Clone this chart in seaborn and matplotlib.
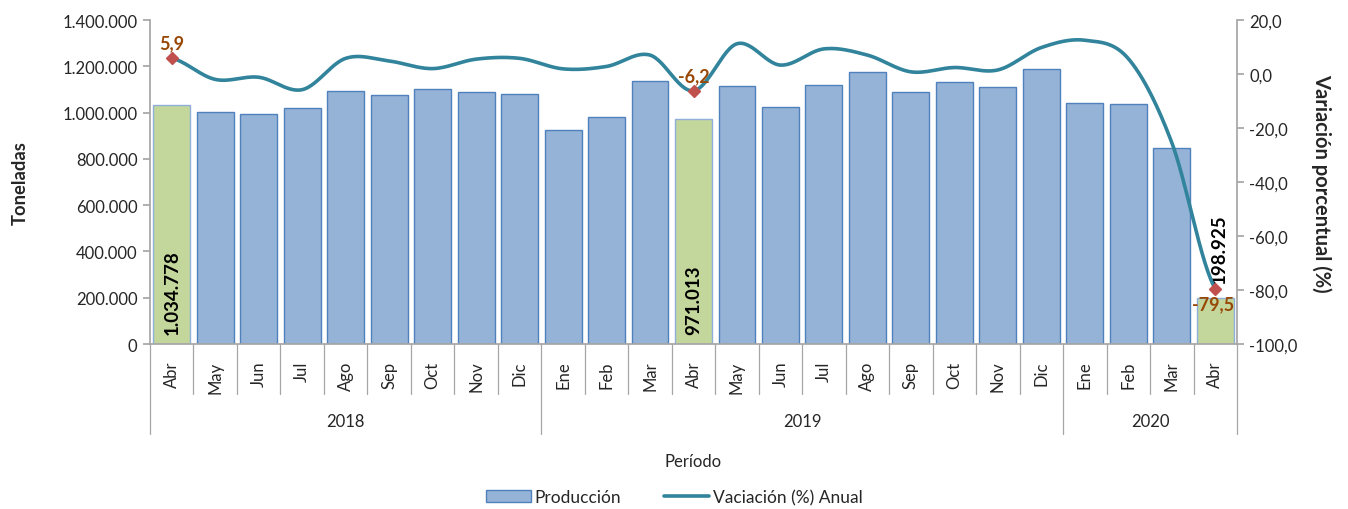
import numpy as np
import pandas as pd
import matplotlib
matplotlib.use("Agg")
import matplotlib.pyplot as plt
import matplotlib.transforms as mtransforms
from matplotlib.patches import Patch
from matplotlib.lines import Line2D
import seaborn as sns

# === Data ===
months = ["Abr", "May", "Jun", "Jul", "Ago", "Sep", "Oct", "Nov", "Dic",
          "Ene", "Feb", "Mar", "Abr", "May", "Jun", "Jul", "Ago", "Sep", "Oct", "Nov", "Dic",
          "Ene", "Feb", "Mar", "Abr"]
years = ["2018", "2019", "2020"]
year_counts = [9, 12, 4]
produccion = [1034778, 1003000, 993000, 1020000, 1093000, 1078000, 1102000, 1091000, 1082000,
              925000, 981000, 1138000, 971013, 1115000, 1025000, 1117000, 1176000, 1091000,
              1132000, 1112000, 1190000, 1041000, 1037000, 849000, 198925]
variacion = [5.9, -2.0, -1.2, -5.8, 5.8, 4.8, 2.0, 5.5, 5.8,
             1.9, 2.8, 7.0, -6.2, 11.2, 3.3, 9.3, 7.0, 0.8, 2.4, 1.5, 9.8,
             12.5, 5.7, -25.4, -79.5]
highlight = [0, 12, 24]

BLUE = "#95B3D7"
BLUE_EDGE = "#4F81BD"
GREEN = "#C3D69B"
GREEN_EDGE = "#8FAEDA"
TEAL = "#31849B"
RED = "#C0504D"
BROWN = "#984807"
GRAY = "#A6A6A6"

sns.set_theme(style="white")
plt.rcParams["font.family"] = ["Lato", "DejaVu Sans"]

n = len(months)
idx = np.arange(n)
df = pd.DataFrame({"i": idx, "prod": produccion})
colors = [GREEN if i in highlight else BLUE for i in idx]

fig = plt.figure(figsize=(13.48, 5.10), dpi=100)
ax = fig.add_axes([150 / 1348, 1 - 345 / 510, 1087 / 1348, 324 / 510])

# === Bars ===
sns.barplot(data=df, x="i", y="prod", hue="i", palette=colors, legend=False,
            width=0.85, ax=ax, saturation=1)
for i, p in enumerate(ax.patches):
    p.set_edgecolor(GREEN_EDGE if i in highlight else BLUE_EDGE)
    p.set_linewidth(1.0)

ax.set_xlim(-0.5, n - 0.5)
ax.set_ylim(0, 1400000)
ax.set_yticks(np.arange(0, 1400001, 200000))
ax.set_yticklabels([f"{v:,}".replace(",", ".") for v in range(0, 1400001, 200000)], fontsize=12)
ax.set_xticks(idx)
ax.set_xticklabels(months, rotation=90, fontsize=12)
ax.tick_params(axis="x", length=0, pad=12)
ax.tick_params(axis="y", length=5, color=GRAY, direction="out", left=True, pad=4)
ax.set_xlabel("")
ax.set_ylabel("Toneladas", fontsize=13.2, fontweight="bold", labelpad=24)
for s in ["top", "right"]:
    ax.spines[s].set_visible(False)
for s in ["left", "bottom"]:
    ax.spines[s].set_color(GRAY)

# bar data labels
for i in highlight:
    txt = f"{produccion[i]:,}".replace(",", ".")
    if produccion[i] > 400000:
        ax.text(i, 45000, txt, rotation=90, ha="center", va="bottom",
                fontsize=13.5, fontweight="bold", color="black")
    else:
        ax.text(i + 0.08, produccion[i] + 65000, txt, rotation=90, ha="center", va="bottom",
                fontsize=13.5, fontweight="bold", color="black")

# === Multi-level category axis ===
trans = mtransforms.blended_transform_factory(ax.transData, ax.transAxes)
year_edges = np.cumsum([0] + year_counts)
for k in range(n + 1):
    x = k - 0.5
    depth = -90 / 324 if k in year_edges else -50 / 324
    ax.plot([x, x], [0, depth], transform=trans, color=GRAY, lw=0.9, clip_on=False)
for y, start, cnt in zip(years, year_edges[:-1], year_counts):
    ax.text(start + (cnt - 1) / 2, -77 / 324, y, transform=trans, ha="center",
            va="center", fontsize=12)
ax.text(0.5, -117 / 324, "Período", transform=ax.transAxes, ha="center",
        va="center", fontsize=12)

# === Line on secondary axis (smoothed like the original) ===
ax2 = ax.twinx()
pts = np.array(variacion)
ext = np.concatenate([[pts[0]], pts, [pts[-1]]])
xs, ys = [], []
t = np.linspace(0, 1, 30)
for k in range(n - 1):
    p0, p1, p2, p3 = ext[k], ext[k + 1], ext[k + 2], ext[k + 3]
    c1 = p1 + (p2 - p0) / 6
    c2 = p2 - (p3 - p1) / 6
    yk = (1 - t) ** 3 * p1 + 3 * (1 - t) ** 2 * t * c1 + 3 * (1 - t) * t ** 2 * c2 + t ** 3 * p2
    xs.extend(k + t)
    ys.extend(yk)
ax2.plot(xs, ys, color=TEAL, lw=2.6, solid_capstyle="round")
ax2.plot([idx[i] for i in highlight], [variacion[i] for i in highlight],
         linestyle="none", marker="D", markersize=6.5, color=RED)
ax2.set_ylim(-100, 20)
ax2.set_yticks(np.arange(-100, 21, 20))
ax2.set_yticklabels([f"{v:.1f}".replace(".", ",") for v in np.arange(-100, 21, 20)], fontsize=12)
ax2.tick_params(axis="y", length=5, color=GRAY, direction="out", right=True, pad=4)
ax2.set_ylabel("Variación porcentual (%)", fontsize=14.5, fontweight="bold",
               rotation=270, labelpad=24)
for s in ["top", "left", "bottom"]:
    ax2.spines[s].set_visible(False)
ax2.spines["right"].set_color(GRAY)
ax2.grid(False)

for i in highlight:
    txt = f"{variacion[i]:.1f}".replace(".", ",")
    if variacion[i] > -50:
        ax2.text(i, variacion[i] + 2.5, txt, ha="center", va="bottom",
                 fontsize=13, fontweight="bold", color=BROWN)
    else:
        ax2.text(i - 0.05, variacion[i] - 2.5, txt, ha="center", va="top",
                 fontsize=13, fontweight="bold", color=BROWN)

# === Legend ===
handles = [Patch(facecolor=BLUE, edgecolor=BLUE_EDGE, label="Producción"),
           Line2D([0], [0], color=TEAL, lw=2.6, label="Vaciación (%) Anual")]
fig.legend(handles=handles, loc="center", bbox_to_anchor=(0.5, 1 - 498 / 510), ncol=2,
           frameon=False, fontsize=12.5, handlelength=2.6, handletextpad=0.2,
           columnspacing=2.5)

fig.savefig("out.png", dpi=100)
